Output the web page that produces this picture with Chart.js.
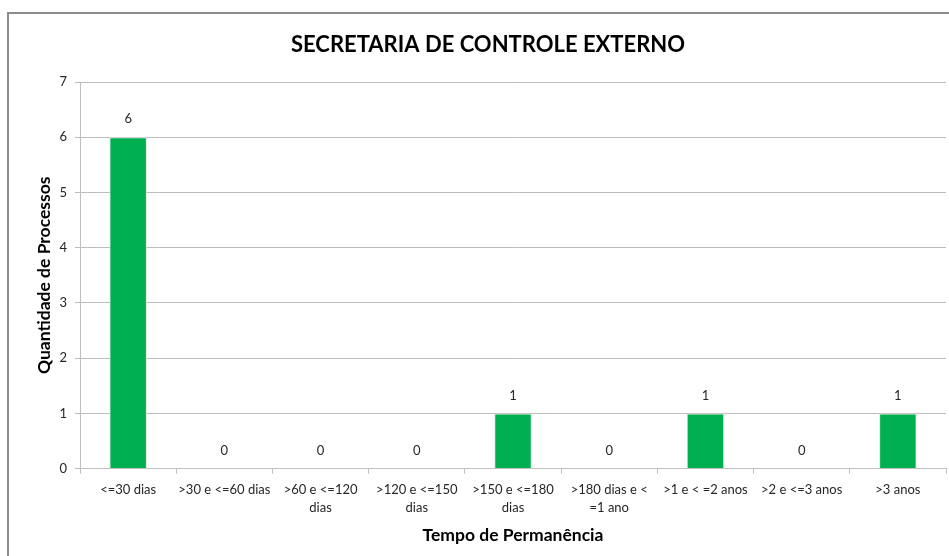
<!DOCTYPE html>
<html>
<head>
<meta charset="utf-8">
<script src="https://cdn.jsdelivr.net/npm/chart.js@4/dist/chart.umd.min.js"></script>
<style>
  html, body { margin: 0; padding: 0; background: #fff; }
  #wrap { position: relative; width: 949px; height: 556px; }
</style>
</head>
<body>
<div id="wrap"><canvas id="chart" width="949" height="556"></canvas></div>
<script>
const categories = [
  ["<=30 dias"],
  [">30 e <=60 dias"],
  [">60 e <=120", "dias"],
  [">120 e <=150", "dias"],
  [">150 e <=180", "dias"],
  [">180 dias e <", "=1 ano"],
  [">1 e < =2 anos"],
  [">2 e <=3 anos"],
  [">3 anos"],
];
const quantidades = [6, 0, 0, 0, 1, 0, 1, 0, 1];
const yTicks = [0, 1, 2, 3, 4, 5, 6, 7];

const FONT = "Lato, 'Liberation Sans', sans-serif";
const TEXT = "#262626";

// moldura externa (borda cinza)
const frame = {
  id: "frame",
  beforeDraw(chart) {
    const ctx = chart.ctx;
    ctx.save();
    ctx.fillStyle = "#fff";
    ctx.fillRect(0, 0, chart.width, chart.height);
    ctx.strokeStyle = "#8c8c8c";
    ctx.lineWidth = 2;
    ctx.strokeRect(8, 13, chart.width + 20, chart.height + 20);
    ctx.restore();
  },
};

// rótulos de valor acima das barras
const valueLabels = {
  id: "valueLabels",
  afterDatasetsDraw(chart) {
    const ctx = chart.ctx;
    const meta = chart.getDatasetMeta(0);
    ctx.save();
    ctx.font = "13px " + FONT;
    ctx.fillStyle = TEXT;
    ctx.textAlign = "center";
    ctx.textBaseline = "middle";
    meta.data.forEach((bar, i) => {
      ctx.fillText(String(quantidades[i]), bar.x, bar.y - 18);
    });
    ctx.restore();
  },
};

new Chart(document.getElementById("chart"), {
  type: "bar",
  data: {
    labels: categories,
    datasets: [
      {
        data: quantidades,
        backgroundColor: "#00b050",
        borderColor: "#e3e3e3",
        borderWidth: 1,
        categoryPercentage: 1,
        barPercentage: 0.39,
      },
    ],
  },
  options: {
    responsive: false,
    animation: false,
    layout: { padding: { left: 30, right: 3, top: 0, bottom: 10 } },
    plugins: {
      legend: { display: false },
      tooltip: { enabled: false },
      title: {
        display: true,
        text: "SECRETARIA DE CONTROLE EXTERNO",
        color: "#000",
        font: { family: FONT, size: 22, weight: "bold" },
        padding: { top: 32, bottom: 23.6 },
      },
    },
    scales: {
      x: {
        grid: {
          offset: true,
          drawOnChartArea: false,
          drawTicks: true,
          tickLength: 5,
          color: "#bfbfbf",
        },
        border: { color: "#bfbfbf" },
        ticks: {
          color: TEXT,
          font: { family: FONT, size: 13, lineHeight: 1.38 },
          maxRotation: 0,
          autoSkip: false,
          padding: 7,
        },
        title: {
          display: true,
          text: "Tempo de Permanência",
          color: "#000",
          font: { family: FONT, size: 17.5, weight: "bold" },
          padding: { top: 1.5, bottom: 0 },
        },
      },
      y: {
        min: yTicks[0],
        max: yTicks[yTicks.length - 1],
        afterBuildTicks(scale) {
          scale.ticks = yTicks.map((v) => ({ value: v }));
        },
        grid: { color: "#bdbdbd", tickLength: 5 },
        border: { color: "#bfbfbf" },
        ticks: {
          color: TEXT,
          font: { family: FONT, size: 13 },
          padding: 8,
        },
        title: {
          display: true,
          text: "Quantidade de Processos",
          color: "#000",
          font: { family: FONT, size: 17.5, weight: "bold" },
          padding: { top: 3.5, bottom: -3 },
        },
      },
    },
  },
  plugins: [frame, valueLabels],
});
</script>
</body>
</html>
